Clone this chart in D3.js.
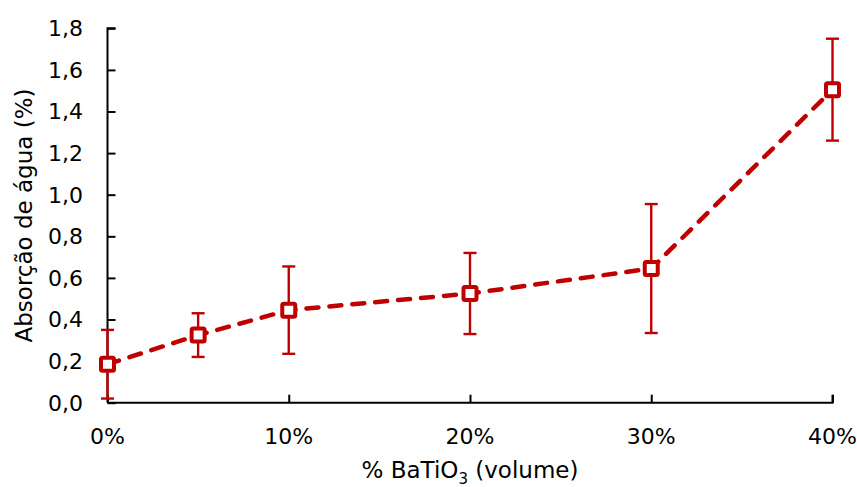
<!DOCTYPE html>
<html><head><meta charset="utf-8">
<script src="https://cdn.jsdelivr.net/npm/d3@7"></script>
<style>body{margin:0;background:#fff}svg{display:block}text{font-family:"DejaVu Sans",sans-serif;fill:#000}</style>
</head><body>
<script>
const xValues = [0, 5, 10, 20, 30, 40];
const yValues = [0.185, 0.325, 0.445, 0.525, 0.645, 1.505];
const yErrors = [0.165, 0.105, 0.21, 0.195, 0.31, 0.245];
const xTicks = [0, 10, 20, 30, 40];
const yTicks = [0, 0.2, 0.4, 0.6, 0.8, 1.0, 1.2, 1.4, 1.6, 1.8];
const xTitle = "% BaTiO";
const yTitle = "Absorção de água (%)";

const W = 857, H = 487;
const color = "#C00000";
const svg = d3.select("body").append("svg").attr("width", W).attr("height", H);
const x = d3.scaleLinear().domain([0, 40]).range([107.5, 832.5]);
const y = d3.scaleLinear().domain([0, 1.8]).range([402.7, 28.3]);

const fmt = d => d3.format(".1f")(d).replace(".", ",");
const yAxis = svg.append("g").attr("transform", `translate(${x(0)},0)`)
  .call(d3.axisRight(y).tickValues(yTicks).tickSize(8).tickFormat(""));
yAxis.select(".domain").attr("stroke", "#000").attr("stroke-width", 2).attr("d", `M8,${y(1.8)}H0V${y(0)}`);
yAxis.selectAll(".tick line").attr("stroke", "#000").attr("stroke-width", 2);
svg.append("g").selectAll("text").data(yTicks).join("text")
  .attr("x", 83).attr("y", d => y(d)).attr("dy", "0.36em").attr("text-anchor", "end")
  .attr("font-size", 22).text(fmt);

const xAxis = svg.append("g").attr("transform", `translate(0,${y(0)})`)
  .call(d3.axisTop(x).tickValues(xTicks).tickSize(8).tickFormat(""));
xAxis.select(".domain").attr("stroke", "#000").attr("stroke-width", 2).attr("d", `M${x(0)},0H${x(40)}V-8`);
xAxis.selectAll(".tick line").attr("stroke", "#000").attr("stroke-width", 2);
svg.append("g").selectAll("text").data(xTicks).join("text")
  .attr("x", d => x(d)).attr("y", 443.5).attr("text-anchor", "middle")
  .attr("font-size", 22).text(d => d + "%");

const t = svg.append("text").attr("x", x(20)).attr("y", 478).attr("text-anchor", "middle").attr("font-size", 23);
t.append("tspan").text(xTitle);
t.append("tspan").attr("font-size", 15).attr("dy", 6).text("3");
t.append("tspan").attr("dy", -6).text(" (volume)");

svg.append("text").attr("transform", `translate(32,${(y(0)+y(1.8))/2}) rotate(-90)`)
  .attr("text-anchor", "middle").attr("font-size", 23).text(yTitle);

const pts = xValues.map((v, i) => ({x: v, y: yValues[i], e: yErrors[i]}));
svg.append("path").datum(pts)
  .attr("d", d3.line().x(d => x(d.x)).y(d => y(d.y)))
  .attr("fill", "none").attr("stroke", color).attr("stroke-width", 4.5)
  .attr("stroke-dasharray", "12,11").attr("stroke-linecap", "round");

const eb = svg.append("g").attr("stroke", color).attr("stroke-width", 2.4);
pts.forEach(d => {
  eb.append("line").attr("x1", x(d.x)).attr("x2", x(d.x)).attr("y1", y(d.y - d.e)).attr("y2", y(d.y + d.e));
  [d.y - d.e, d.y + d.e].forEach(v => eb.append("line")
    .attr("x1", x(d.x) - 6.5).attr("x2", x(d.x) + 6.5).attr("y1", y(v)).attr("y2", y(v)));
});

svg.append("g").selectAll("rect").data(pts).join("rect")
  .attr("x", d => x(d.x) - 6.5).attr("y", d => y(d.y) - 6.5).attr("width", 13).attr("height", 13)
  .attr("rx", 1.5).attr("fill", "#fff").attr("stroke", color).attr("stroke-width", 4);
</script>
</body></html>
